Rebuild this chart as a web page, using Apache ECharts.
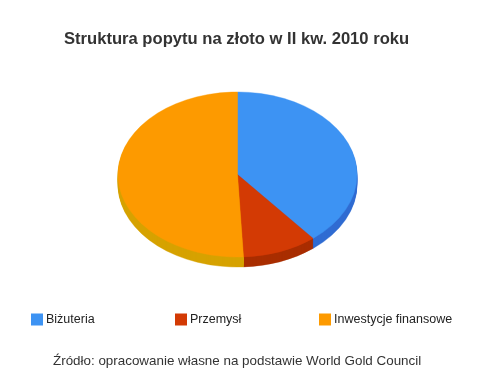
<!DOCTYPE html>
<html><head><meta charset="utf-8">
<script src="https://cdn.jsdelivr.net/npm/echarts@6/dist/echarts.min.js"></script>
<style>html,body{margin:0;padding:0;background:#fff}#c{width:493px;height:386px}</style>
</head><body><div id="c"></div>
<script>
const categories = ['Biżuteria', 'Przemysł', 'Inwestycje finansowe'];
const values = [39.1, 10.1, 50.8];
const topColors = ['#3d93f3', '#d33a04', '#fd9a00'];
const sideColors = ['#2f6cd2', '#a92e00', '#d6a200'];
const titleText = 'Struktura popytu na złoto w II kw. 2010 roku';
const sourceText = 'Źródło: opracowanie własne na podstawie World Gold Council';

const CX = 237.5, CY = 174.5, RX = 119.5, RY = 82.5, DEPTH = 10;
const total = values.reduce((a, b) => a + b, 0);
const starts = [];
let acc = 0;
values.forEach(v => { starts.push(acc); acc += v; });
function angles(i) {
  const a0 = -Math.PI / 2 + 2 * Math.PI * starts[i] / total;
  const a1 = a0 + 2 * Math.PI * values[i] / total;
  return [a0, a1];
}

const chart = echarts.init(document.getElementById('c'), null, {renderer: 'canvas'});

const sideSeries = {
  type: 'custom', name: '_side', z: 1, silent: true,
  coordinateSystem: 'none',
  data: values.map((v, i) => i),
  renderItem: function (params, api) {
    const i = api.value(0);
    const [a0, a1] = angles(i);
    const children = [];
    for (let k = DEPTH; k >= 1; k--) {
      children.push({
        type: 'group', x: CX, y: CY + k, scaleY: RY / RX,
        children: [{
          type: 'sector',
          shape: {cx: 0, cy: 0, r: RX, r0: 0, startAngle: a0, endAngle: a1, clockwise: true},
          style: {fill: sideColors[i], stroke: sideColors[i], lineWidth: 0.5}
        }]
      });
    }
    return {type: 'group', children: children};
  }
};

const topSeries = categories.map((name, i) => ({
  type: 'custom', name: name, z: 2,
  coordinateSystem: 'none',
  itemStyle: {color: topColors[i]},
  data: [i],
  renderItem: function (params, api) {
    const idx = api.value(0);
    const [a0, a1] = angles(idx);
    return {
      type: 'group', x: CX, y: CY, scaleY: RY / RX,
      children: [{
        type: 'sector',
        shape: {cx: 0, cy: 0, r: RX, r0: 0, startAngle: a0, endAngle: a1, clockwise: true},
        style: {fill: topColors[idx], stroke: topColors[idx], lineWidth: 0.5}
      }]
    };
  }
}));

const legendLefts = [31, 175, 319];
const legends = categories.map((name, i) => ({
  data: [name], left: legendLefts[i], top: 313, padding: 0,
  icon: 'rect', itemWidth: 12, itemHeight: 12, itemGap: 0,
  textStyle: {fontFamily: 'Liberation Sans, Arial, sans-serif', fontSize: 12.5, color: '#222', padding: [0, 0, 0, -2]},
  selectedMode: false
}));

chart.setOption({
  animation: false,
  backgroundColor: '#fff',
  title: [{
    text: titleText, left: 64, top: 31, padding: 0,
    textStyle: {fontFamily: 'Liberation Sans, Arial, sans-serif', fontSize: 16.6, fontWeight: 'bold', color: '#333'}
  }, {
    text: sourceText, left: 53, top: 355, padding: 0,
    textStyle: {fontFamily: 'Liberation Sans, Arial, sans-serif', fontSize: 13.4, fontWeight: 'normal', color: '#333'}
  }],
  legend: legends,
  series: [sideSeries].concat(topSeries)
});
</script></body></html>
